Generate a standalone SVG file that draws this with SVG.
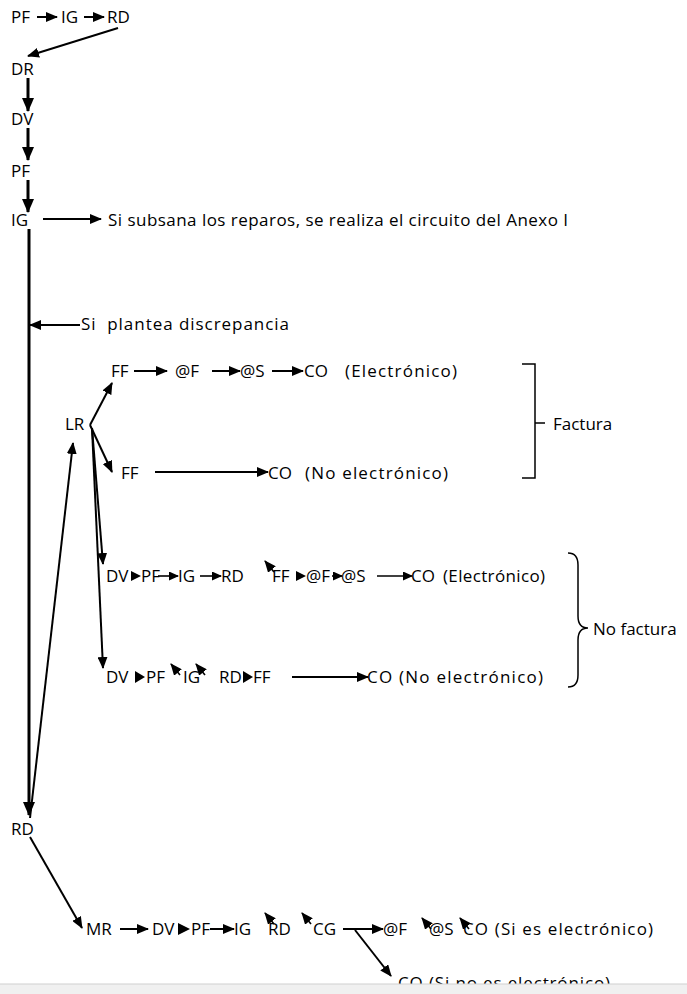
<svg xmlns="http://www.w3.org/2000/svg" width="687" height="994" viewBox="0 0 687 994">
<style>
text{font-family:"Open Sans","Liberation Sans",sans-serif;font-size:17px;fill:#000}
.a{stroke:#000;stroke-width:2;fill:none;marker-end:url(#ah)}
.t{stroke:#000;stroke-width:3;fill:none;marker-end:url(#ahL)}
.s{stroke:#000;stroke-width:1.6;fill:none;marker-end:url(#ahS)}
.r{stroke:#000;stroke-width:1.6;fill:none;marker-end:url(#ah)}
.br{stroke:#000;stroke-width:1.5;fill:none}
.tri{fill:#000}
</style>
<defs>
<marker id="ah" markerUnits="userSpaceOnUse" markerWidth="12" markerHeight="10" refX="11" refY="5" orient="auto"><path d="M0,0 L12,5 L0,10 z" fill="#000"/></marker>
<marker id="ahL" markerUnits="userSpaceOnUse" markerWidth="14" markerHeight="12" refX="13" refY="6" orient="auto"><path d="M0,0 L14,6 L0,12 z" fill="#000"/></marker>
<marker id="ahS" markerUnits="userSpaceOnUse" markerWidth="10" markerHeight="9" refX="9" refY="4.5" orient="auto"><path d="M0,0 L10,4.5 L0,9 z" fill="#000"/></marker>
</defs>
<rect width="687" height="994" fill="#fff"/>

<g id="connectors">
<line class="a" x1="37" y1="17" x2="57" y2="17"/>
<line class="a" x1="84" y1="17" x2="104" y2="17"/>
<line class="a" x1="118" y1="28" x2="28" y2="56"/>
<line class="t" x1="28" y1="78" x2="28" y2="111"/>
<line class="t" x1="28" y1="128" x2="28" y2="160"/>
<line class="t" x1="28" y1="180" x2="28" y2="212"/>
<line class="t" x1="29" y1="229" x2="29" y2="815"/>
<line class="a" x1="43" y1="219" x2="101" y2="219"/>
<line class="a" x1="80" y1="325" x2="30" y2="325"/>
<line class="a" x1="90" y1="425" x2="112" y2="383"/>
<line class="a" x1="90" y1="425" x2="112" y2="472"/>
<line class="a" x1="92" y1="428" x2="103" y2="564"/>
<line class="a" x1="92" y1="428" x2="103" y2="668"/>
<line class="a" x1="30" y1="818" x2="73" y2="443"/>
<line class="a" x1="30" y1="837" x2="82" y2="928"/>
<line class="a" x1="134" y1="371" x2="167" y2="371"/>
<line class="a" x1="212" y1="371" x2="240" y2="371"/>
<line class="a" x1="272" y1="371" x2="303" y2="371"/>
<line class="a" x1="155" y1="472" x2="268" y2="472"/>
<path class="tri" d="M131,571 L141,576 L131,581 z"/>
<line class="s" x1="158" y1="576" x2="178" y2="576"/>
<line class="s" x1="200" y1="576" x2="221" y2="576"/>
<line class="r" x1="274" y1="572" x2="265" y2="561"/>
<path class="tri" d="M296,571 L306,576 L296,581 z"/>
<line class="s" x1="332" y1="576" x2="342" y2="576"/>
<line class="s" x1="377" y1="576" x2="412" y2="576"/>
<path class="tri" d="M135,671 L145,677 L135,683 z"/>
<line class="r" x1="180" y1="675" x2="171" y2="664"/>
<line class="r" x1="205" y1="675" x2="196" y2="664"/>
<path class="tri" d="M243,671 L253,677 L243,683 z"/>
<line class="a" x1="292" y1="677" x2="368" y2="677"/>
<line class="a" x1="120" y1="929" x2="148" y2="929"/>
<path class="tri" d="M178,923 L190,929 L178,935 z"/>
<line class="a" x1="210" y1="929" x2="234" y2="929"/>
<line class="r" x1="274" y1="924" x2="265" y2="913"/>
<line class="r" x1="311" y1="924" x2="302" y2="913"/>
<line class="a" x1="343" y1="929" x2="383" y2="929"/>
<line class="r" x1="431" y1="929" x2="422" y2="918"/>
<line class="r" x1="469" y1="929" x2="460" y2="918"/>
<line class="a" x1="355" y1="930" x2="391" y2="976"/>
</g>

<g id="n-pf1"><text x="11" y="23">PF</text></g>
<g id="n-ig1"><text x="61" y="23">IG</text></g>
<g id="n-rd1"><text x="107" y="23">RD</text></g>
<g id="n-dr"><text x="11" y="75">DR</text></g>
<g id="n-dv"><text x="11" y="125">DV</text></g>
<g id="n-pf"><text x="11" y="177">PF</text></g>
<g id="n-ig"><text x="11" y="226">IG</text></g>
<g id="n-subsana"><text x="108" y="226" textLength="460">Si subsana los reparos, se realiza el circuito del Anexo I</text></g>
<g id="n-discrepancia"><text x="81" y="330" textLength="208" xml:space="preserve">Si  plantea discrepancia</text></g>

<g id="n-lr"><text x="65" y="430">LR</text></g>
<g id="n-row-ff1">
<text x="111" y="377">FF</text>
<text x="175" y="377">@F</text>
<text x="240" y="377">@S</text>
<text x="304" y="377">CO</text>
<text x="345" y="377" textLength="112">(Electrónico)</text>
</g>
<g id="n-row-ff2">
<text x="121" y="479">FF</text>
<text x="268" y="479">CO</text>
<text x="305" y="479" textLength="143">(No electrónico)</text>
</g>
<g id="n-factura">
<path class="br" d="M522,364 H535 V478 H522 M535,423 H545"/>
<text x="553" y="430">Factura</text>
</g>

<g id="n-row-dv1">
<text x="106" y="582">DV</text>
<text x="141" y="582">PF</text>
<text x="178" y="582">IG</text>
<text x="221" y="582">RD</text>
<text x="272" y="582">FF</text>
<text x="306" y="582">@F</text>
<text x="341" y="582">@S</text>
<text x="411" y="582">CO</text>
<text x="443" y="582" textLength="102">(Electrónico)</text>
</g>
<g id="n-row-dv2">
<text x="106" y="683">DV</text>
<text x="146" y="683">PF</text>
<text x="183" y="683">IG</text>
<text x="219" y="683">RD</text>
<text x="253" y="683">FF</text>
<text x="367" y="683" textLength="176">CO (No electrónico)</text>
</g>
<g id="n-nofactura">
<path class="br" d="M568,553 Q578,553 578,565 L578,616 Q578,628 588,628 Q578,628 578,640 L578,675 Q578,687 568,687"/>
<text x="593" y="635">No factura</text>
</g>

<g id="n-rd"><text x="11" y="835">RD</text></g>
<g id="n-row-mr">
<text x="86" y="935">MR</text>
<text x="152" y="935">DV</text>
<text x="191" y="935">PF</text>
<text x="234" y="935">IG</text>
<text x="268" y="935">RD</text>
<text x="313" y="935">CG</text>
<text x="383" y="935">@F</text>
<text x="429" y="935">@S</text>
<text x="463" y="935" textLength="190">CO (Si es electrónico)</text>
</g>
<g id="n-co-noelec"><text x="398" y="989" textLength="212">CO (Si no es electrónico)</text></g>

<g id="footer">
<rect x="0" y="984" width="687" height="10" fill="#f0f0f0"/>
<line x1="0" y1="984" x2="687" y2="984" stroke="#cfcfcf" stroke-width="1"/>
</g>
</svg>
